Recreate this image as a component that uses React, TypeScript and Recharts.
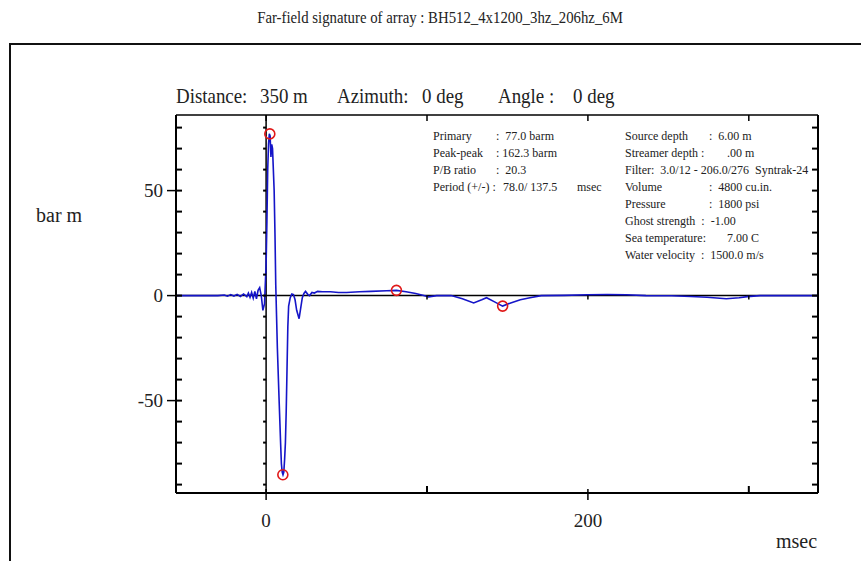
import { ComposedChart, Line, Scatter, XAxis, YAxis, ReferenceLine } from 'recharts'

// far-field signature, time in msec, pressure in bar m
const msec = [
  -56, -30, -26, -24, -22, -20, -18, -16, -14, -12, -11, -10, -9, -8, -7, -6, -5, -4, -3, -2, -1,
  0, 0.5, 1, 1.5, 2, 2.5, 3, 3.5, 4, 5, 5.5, 6, 6.5, 7, 8, 9, 9.5, 10, 10.5, 11, 11.5, 12, 12.5,
  13, 13.5, 14, 15, 16, 17, 18, 19, 20.5, 21.5, 22.5, 23.5, 24.5, 26, 27, 28.5, 30, 32, 35, 40,
  45, 50, 58, 65, 75, 81, 87, 93, 98, 101, 106, 115, 122, 129, 134, 137, 142, 147, 152, 158, 164,
  171, 185, 200, 212, 224, 236, 252, 264, 274, 286, 294, 299, 307, 343,
]
const barm = [
  0, 0, 0.3, -0.3, 0.5, -0.2, 0.6, -0.4, 0.8, -0.5, 1.2, -0.8, 1.5, -1.2, 2, -1.5, 2.5, 3.8, 0, -7, -4,
  15, 35, 60, 72, 77, 76, 66, 72, 70, 50, 30, 5, -10, -25, -48, -70, -80, -84, -85.3, -84, -78, -70, -55,
  -35, -15, -5, -1, 0.8, 0.5, -2, -7, -11, -6, -1, 1, 2, 0.5, 0, 1.5, 1.2, 2, 1.8, 1.8,
  1.5, 1.5, 1.8, 2, 2.3, 2.5, 1.8, 1, 0, -0.6, 0, 0, -1.5, -3.5, -2, -1, -3, -5, -3.5, -2, -1,
  0, 0.1, 0.4, 0.5, 0.4, 0, -0.1, -0.4, -0.8, -1.5, -1, -0.5, 0, 0,
]

// picked peaks (red circles)
const peakMsec = [2.3, 10.4, 81, 147]
const peakBarm = [77, -85.3, 2.5, -5]

const xTicks = [0, 100, 200, 300]
const xLabels = [0, 200]
const yTicks = [-90, -80, -70, -60, -50, -40, -30, -20, -10, 0, 10, 20, 30, 40, 50, 60, 70, 80]
const yLabels = [-50, 0, 50]

const title = 'Far-field signature of array : BH512_4x1200_3hz_206hz_6M'
const subtitle = ['Distance:', '350 m', 'Azimuth:', '0 deg', 'Angle :', '0 deg']
const subtitleX = [176, 260, 337, 422, 498, 573]

const statsLeft = [
  ['Primary', ':  77.0 barm', ''],
  ['Peak-peak', ': 162.3 barm', ''],
  ['P/B ratio', ':  20.3', ''],
  ['Period (+/-) :', '78.0/ 137.5', 'msec'],
]
const statsRight = [
  ['Source depth', ':  6.00 m'],
  ['Streamer depth :', '.00 m'],
  ['Filter:  3.0/12 - 206.0/276  Syntrak-24', ''],
  ['Volume', ':  4800 cu.in.'],
  ['Pressure', ':  1800 psi'],
  ['Ghost strength  :  -1.00', ''],
  ['Sea temperature:', '7.00 C'],
  ['Water velocity  :  1500.0 m/s', ''],
]

const signal = msec.map((t, i) => ({ t, v: barm[i] }))
const peaks = peakMsec.map((t, i) => ({ t, v: peakBarm[i] }))
const zeroYTicks = yTicks.map((v) => ({ t: 0, v }))
const zeroXTicks = xTicks.filter((t) => t !== 0).map((t) => ({ t, v: 0 }))

const font = '"Liberation Serif", "Times New Roman", serif'

function LeftTick(props: any) {
  const { x, y, payload } = props
  const major = yLabels.includes(payload.value)
  return (
    <g>
      <line x1={x} x2={x + 6} y1={y} y2={y} stroke="#000" strokeWidth={2} />
      {major && <line x1={x - 9} x2={x} y1={y} y2={y} stroke="#000" strokeWidth={1.5} />}
      {major && (
        <text x={x - 13} y={y} dy={6} textAnchor="end" fontFamily={font} fontSize={19} fill="#222">
          {payload.value}
        </text>
      )}
    </g>
  )
}

function RightTick(props: any) {
  const { x, y } = props
  return <line x1={x - 6} x2={x} y1={y} y2={y} stroke="#000" strokeWidth={2} />
}

function BottomTick(props: any) {
  const { x, y, payload } = props
  const major = xLabels.includes(payload.value)
  return (
    <g>
      {major ? (
        <line x1={x} x2={x} y1={y - 4} y2={y + 7} stroke="#000" strokeWidth={1.5} />
      ) : (
        <line x1={x} x2={x} y1={y - 7} y2={y} stroke="#000" strokeWidth={2} />
      )}
      {major && (
        <text x={x} y={y + 34} textAnchor="middle" fontFamily={font} fontSize={19} fill="#222">
          {payload.value}
        </text>
      )}
    </g>
  )
}

function TopTick(props: any) {
  const { x, y } = props
  return <line x1={x} x2={x} y1={y} y2={y + 6} stroke="#000" strokeWidth={1.5} />
}

function RedCircle(props: any) {
  const { cx, cy } = props
  return <circle cx={cx} cy={cy} r={5} fill="none" stroke="#e01818" strokeWidth={1.6} />
}

function ZeroYTick(props: any) {
  const { cx, cy } = props
  return <line x1={cx - 3} x2={cx} y1={cy} y2={cy} stroke="#000" strokeWidth={2} />
}

function ZeroXTick(props: any) {
  const { cx, cy } = props
  return <line x1={cx} x2={cx} y1={cy} y2={cy + 4} stroke="#000" strokeWidth={1.5} />
}

const abs = (left: number, top: number, size: number, extra: any = {}) => ({
  position: 'absolute' as const,
  left,
  top,
  fontFamily: font,
  fontSize: size,
  color: '#222',
  whiteSpace: 'pre' as const,
  lineHeight: 1,
  ...extra,
})

export default function App() {
  return (
    <div style={{ position: 'absolute', left: 0, top: 0, width: 861, height: 561, background: '#fff', overflow: 'hidden' }}>
      <div style={{ position: 'absolute', left: 9, top: 43, width: 900, height: 600, border: '2px solid #111' }} />
      <div style={abs(0, 9, 17, { width: 880, textAlign: 'center', transform: 'scaleX(0.87)', transformOrigin: '440px 0' })}>
        {title}
      </div>
      {subtitle.map((s, i) => (
        <div key={i} style={abs(subtitleX[i], 86, 21, { transform: 'scaleX(0.9)', transformOrigin: '0 0' })}>
          {s}
        </div>
      ))}
      <div style={abs(36, 205, 20)}>bar m</div>
      <div style={abs(776, 531, 20)}>msec</div>
      {statsLeft.map(([a, b, c], i) => (
        <div key={a} style={abs(433, 130 + i * 17, 12)}>
          {a}
          <span style={abs(i === 3 ? 70 : 63, 0, 12)}>{b}</span>
          {c && <span style={abs(144, 0, 12)}>{c}</span>}
        </div>
      ))}
      {statsRight.map(([a, b], i) => (
        <div key={a} style={abs(625, 130 + i * 17, 12)}>
          {a}
          {b && <span style={abs(b.startsWith(':') ? 84 : 102, 0, 12)}>{b}</span>}
        </div>
      ))}
      <div style={{ position: 'absolute', left: 0, top: 0 }}>
        <ComposedChart width={861} height={561} margin={{ top: 105, right: 33, bottom: 38, left: 146 }}>
          <XAxis
            xAxisId={0}
            dataKey="t"
            type="number"
            domain={[-56, 343]}
            ticks={xTicks}
            interval={0}
            allowDataOverflow
            height={30}
            tickSize={0}
            tickMargin={0}
            axisLine={{ stroke: '#000', strokeWidth: 2 }}
            tickLine={false}
            tick={<BottomTick />}
          />
          <XAxis
            xAxisId="top"
            orientation="top"
            dataKey="t"
            type="number"
            domain={[-56, 343]}
            ticks={xTicks}
            interval={0}
            allowDataOverflow
            height={10}
            tickSize={0}
            tickMargin={0}
            axisLine={{ stroke: '#000', strokeWidth: 1.5 }}
            tickLine={false}
            tick={<TopTick />}
          />
          <YAxis
            yAxisId={0}
            type="number"
            domain={[-94, 86]}
            ticks={yTicks}
            interval={0}
            allowDataOverflow
            width={30}
            tickSize={0}
            tickMargin={0}
            axisLine={{ stroke: '#000', strokeWidth: 2 }}
            tickLine={false}
            tick={<LeftTick />}
          />
          <YAxis
            yAxisId="right"
            orientation="right"
            type="number"
            domain={[-94, 86]}
            ticks={yTicks}
            interval={0}
            allowDataOverflow
            width={10}
            tickSize={0}
            tickMargin={0}
            axisLine={{ stroke: '#000', strokeWidth: 2 }}
            tickLine={false}
            tick={<RightTick />}
          />
          <ReferenceLine y={0} stroke="#000" strokeWidth={1.5} />
          <ReferenceLine x={0} stroke="#000" strokeWidth={1.5} />
          <Scatter data={zeroYTicks} dataKey="v" shape={<ZeroYTick />} isAnimationActive={false} />
          <Scatter data={zeroXTicks} dataKey="v" shape={<ZeroXTick />} isAnimationActive={false} />
          <Line
            data={signal}
            dataKey="v"
            type="linear"
            stroke="#1515c8"
            strokeWidth={1.6}
            dot={false}
            isAnimationActive={false}
          />
          <Scatter data={peaks} dataKey="v" shape={<RedCircle />} isAnimationActive={false} />
        </ComposedChart>
      </div>
    </div>
  )
}
